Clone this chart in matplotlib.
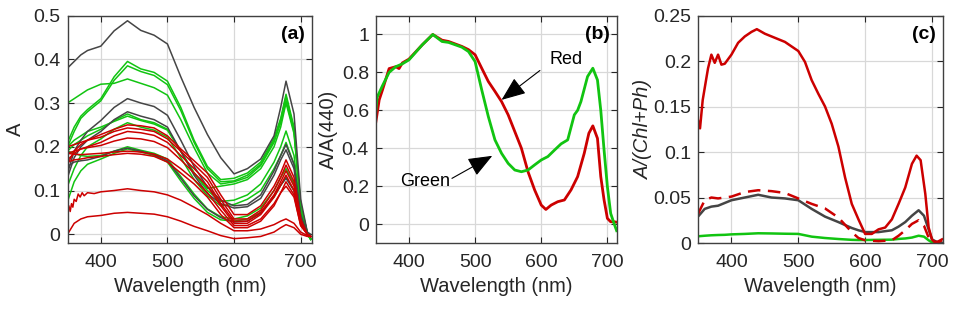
import numpy as np
import matplotlib
matplotlib.use("Agg")
import matplotlib.pyplot as plt

plt.rcParams["font.family"] = ["Liberation Sans", "DejaVu Sans"]
plt.rcParams["text.color"] = "#262626"
plt.rcParams["axes.labelcolor"] = "#262626"
plt.rcParams["xtick.color"] = "#262626"
plt.rcParams["ytick.color"] = "#262626"

RED = "#cc0000"
GREEN = "#11c411"
GRAY = "#454545"

# ---- panel (a): absorbance spectra ----
wl_a = [350, 360, 370, 380, 400, 420, 440, 460, 480, 500, 520, 540, 560, 580,
        600, 620, 640, 660, 670, 678, 690, 700, 710, 715]

gray_a = [
    [0.38, 0.395, 0.41, 0.42, 0.43, 0.465, 0.488, 0.466, 0.455, 0.435, 0.36, 0.29, 0.228, 0.175,
     0.138, 0.15, 0.172, 0.225, 0.29, 0.35, 0.275, 0.08, 0.005, 0.0],
    [0.14, 0.19, 0.215, 0.235, 0.26, 0.29, 0.31, 0.3, 0.292, 0.272, 0.215, 0.155, 0.108, 0.078,
     0.065, 0.068, 0.09, 0.145, 0.18, 0.205, 0.16, 0.045, 0.0, -0.005],
    [0.13, 0.175, 0.2, 0.215, 0.235, 0.262, 0.28, 0.27, 0.262, 0.245, 0.19, 0.135, 0.093, 0.07,
     0.06, 0.063, 0.082, 0.135, 0.17, 0.193, 0.15, 0.04, 0.0, -0.005],
    [0.155, 0.165, 0.168, 0.17, 0.178, 0.19, 0.197, 0.19, 0.182, 0.168, 0.128, 0.088, 0.057, 0.038,
     0.028, 0.03, 0.048, 0.088, 0.112, 0.128, 0.1, 0.028, 0.0, -0.005],
]

green_a = [
    [0.21, 0.245, 0.27, 0.285, 0.31, 0.36, 0.395, 0.378, 0.37, 0.35, 0.29, 0.215, 0.155, 0.125,
     0.128, 0.14, 0.165, 0.22, 0.265, 0.32, 0.245, 0.07, 0.003, -0.01],
    [0.2, 0.235, 0.265, 0.28, 0.305, 0.352, 0.385, 0.372, 0.363, 0.342, 0.283, 0.21, 0.15, 0.12,
     0.122, 0.135, 0.16, 0.215, 0.26, 0.315, 0.24, 0.068, 0.003, -0.01],
    [0.3, 0.31, 0.32, 0.33, 0.343, 0.345, 0.355, 0.345, 0.335, 0.318, 0.262, 0.198, 0.14, 0.115,
     0.12, 0.13, 0.157, 0.21, 0.255, 0.305, 0.235, 0.065, 0.003, -0.012],
    [0.2, 0.215, 0.225, 0.235, 0.245, 0.258, 0.27, 0.26, 0.252, 0.238, 0.19, 0.14, 0.105, 0.11,
     0.115, 0.125, 0.15, 0.2, 0.245, 0.3, 0.23, 0.062, 0.002, -0.012],
    [0.19, 0.205, 0.215, 0.225, 0.24, 0.26, 0.275, 0.262, 0.255, 0.24, 0.19, 0.14, 0.1, 0.075,
     0.078, 0.09, 0.115, 0.165, 0.2, 0.236, 0.18, 0.05, 0.0, -0.01],
    [0.11, 0.15, 0.18, 0.2, 0.218, 0.24, 0.255, 0.245, 0.238, 0.222, 0.175, 0.125, 0.088, 0.065,
     0.068, 0.08, 0.1, 0.15, 0.18, 0.21, 0.16, 0.045, 0.0, -0.01],
    [0.19, 0.185, 0.18, 0.178, 0.18, 0.19, 0.2, 0.192, 0.185, 0.172, 0.132, 0.092, 0.058, 0.04,
     0.035, 0.042, 0.06, 0.1, 0.13, 0.15, 0.115, 0.03, 0.0, -0.01],
    [0.075, 0.12, 0.145, 0.16, 0.172, 0.185, 0.195, 0.188, 0.18, 0.165, 0.122, 0.082, 0.05, 0.033,
     0.03, 0.035, 0.05, 0.085, 0.112, 0.13, 0.1, 0.025, 0.0, -0.012],
]

red_a = [
    [0.16, 0.19, 0.205, 0.215, 0.228, 0.24, 0.25, 0.248, 0.243, 0.225, 0.195, 0.168, 0.14, 0.09,
     0.045, 0.045, 0.065, 0.11, 0.14, 0.17, 0.13, 0.035, 0.0, -0.005],
    [0.2, 0.205, 0.21, 0.215, 0.222, 0.235, 0.243, 0.24, 0.235, 0.218, 0.19, 0.16, 0.13, 0.08,
     0.035, 0.035, 0.055, 0.1, 0.13, 0.158, 0.12, 0.03, 0.0, -0.005],
    [0.17, 0.185, 0.195, 0.2, 0.21, 0.225, 0.235, 0.232, 0.226, 0.21, 0.18, 0.15, 0.12, 0.07,
     0.03, 0.03, 0.05, 0.09, 0.12, 0.145, 0.11, 0.028, 0.0, -0.005],
    [0.185, 0.19, 0.195, 0.198, 0.203, 0.213, 0.22, 0.218, 0.212, 0.198, 0.17, 0.14, 0.11, 0.065,
     0.025, 0.025, 0.045, 0.085, 0.112, 0.135, 0.1, 0.025, 0.0, -0.005],
    [0.185, 0.183, 0.182, 0.183, 0.185, 0.188, 0.19, 0.188, 0.183, 0.172, 0.15, 0.125, 0.095, 0.055,
     0.02, 0.02, 0.035, 0.07, 0.095, 0.11, 0.085, 0.02, 0.0, -0.005],
    [0.165, 0.17, 0.172, 0.175, 0.178, 0.182, 0.185, 0.183, 0.178, 0.165, 0.14, 0.115, 0.085, 0.045,
     0.015, 0.015, 0.03, 0.065, 0.095, 0.12, 0.09, 0.02, 0.0, -0.005],
    [0.0, 0.025, 0.035, 0.04, 0.043, 0.048, 0.05, 0.048, 0.046, 0.04, 0.03, 0.018, 0.008, -0.003,
     -0.01, -0.008, -0.005, 0.005, 0.015, 0.022, 0.015, 0.0, -0.005, -0.005],
]

# noisy low red curve in (a)
wl_a_noisy = [350, 352, 354, 356, 358, 360, 363, 366, 369, 372, 375, 380, 390, 400, 420, 440,
              460, 480, 500, 520, 540, 560, 580, 600, 620, 640, 660, 670, 678, 690, 700, 710, 715]
red_a_noisy = [0.045, 0.065, 0.052, 0.07, 0.062, 0.08, 0.075, 0.092, 0.085, 0.095, 0.088, 0.095,
               0.093, 0.097, 0.1, 0.104, 0.1, 0.097, 0.09, 0.078, 0.062, 0.045, 0.025, 0.008,
               0.008, 0.012, 0.022, 0.03, 0.035, 0.025, 0.005, -0.003, -0.005]

# ---- panel (b): normalized to A(440) ----
wl_b_green = [350, 352, 360, 370, 380, 390, 400, 420, 436, 450, 460, 480, 490, 500, 510, 520,
              530, 540, 550, 560, 570, 580, 590, 600, 610, 620, 630, 640, 650, 655, 660, 670,
              678, 685, 690, 695, 700, 705, 710, 714]
green_b = [0.60, 0.67, 0.73, 0.80, 0.83, 0.845, 0.866, 0.945, 1.0, 0.963, 0.958, 0.933, 0.91,
           0.857, 0.708, 0.567, 0.444, 0.373, 0.32, 0.285, 0.276, 0.285, 0.312, 0.338, 0.356,
           0.39, 0.423, 0.444, 0.576, 0.60, 0.646, 0.778, 0.822, 0.76, 0.60, 0.39, 0.197,
           0.056, 0.004, -0.035]

wl_b_red = [350, 355, 360, 370, 380, 385, 390, 400, 420, 436, 450, 460, 480, 490, 500, 510,
            520, 530, 540, 550, 560, 570, 580, 590, 600, 607, 615, 625, 635, 645, 655, 665,
            672, 678, 685, 690, 695, 700, 705, 710, 714]
red_b = [0.54, 0.655, 0.708, 0.82, 0.83, 0.82, 0.85, 0.87, 0.945, 1.0, 0.97, 0.963, 0.937,
         0.92, 0.893, 0.822, 0.752, 0.70, 0.646, 0.576, 0.488, 0.40, 0.276, 0.18, 0.10, 0.077,
         0.10, 0.118, 0.127, 0.18, 0.25, 0.373, 0.479, 0.518, 0.452, 0.25, 0.127, 0.03, 0.012,
         0.012, 0.01]

# ---- panel (c): normalized to Chl+Ph ----
wl_c_red = [350, 353, 357, 362, 365, 370, 375, 380, 385, 390, 400, 410, 420, 430, 438, 450,
            460, 480, 500, 510, 520, 530, 540, 550, 560, 570, 580, 590, 600, 610, 620, 630,
            640, 650, 660, 670, 677, 683, 690, 695, 700, 705, 710, 715]
red_c = [0.135, 0.126, 0.157, 0.179, 0.192, 0.207, 0.198, 0.207, 0.196, 0.197, 0.207, 0.22,
         0.227, 0.232, 0.235, 0.23, 0.227, 0.221, 0.211, 0.199, 0.179, 0.164, 0.15, 0.131,
         0.106, 0.072, 0.043, 0.026, 0.01, 0.01, 0.015, 0.017, 0.026, 0.043, 0.061, 0.087,
         0.096, 0.091, 0.054, 0.017, 0.004, 0.0, 0.002, 0.004]

wl_c = [350, 360, 370, 380, 390, 400, 420, 440, 460, 480, 500, 520, 540, 560, 580, 590, 600,
        620, 640, 650, 660, 670, 680, 688, 695, 700, 710, 715]
red_c_dash = [0.032, 0.047, 0.05, 0.049, 0.05, 0.051, 0.056, 0.058, 0.057, 0.055, 0.049, 0.043,
              0.038, 0.028, 0.012, 0.0055, 0.003, 0.002, 0.003, 0.008, 0.014, 0.021, 0.025,
              0.019, 0.006, 0.002, 0.001, 0.003]
gray_c = [0.029, 0.0375, 0.04, 0.041, 0.044, 0.047, 0.05, 0.053, 0.05, 0.049, 0.047, 0.0375,
          0.029, 0.023, 0.0165, 0.014, 0.012, 0.012, 0.014, 0.018, 0.023, 0.03, 0.036, 0.03,
          0.015, 0.004, 0.0, 0.0]
green_c = [0.0074, 0.008, 0.0085, 0.0088, 0.009, 0.0095, 0.01, 0.0107, 0.0105, 0.0102, 0.01,
           0.007, 0.0055, 0.0044, 0.0035, 0.0033, 0.0033, 0.0035, 0.0037, 0.0045, 0.005, 0.006,
           0.008, 0.007, 0.003, 0.0007, 0.0, 0.0]


def style_axes(ax, label):
    ax.set_xlim(350, 717)
    ax.set_xticks([400, 500, 600, 700])
    ax.grid(True, color="#d8d8d8", lw=0.9)
    ax.set_axisbelow(True)
    ax.tick_params(direction="in", top=True, right=True, length=4, width=0.8,
                   labelsize=14)
    ax.tick_params(axis="x", pad=8)
    ax.tick_params(axis="y", pad=5)
    for s in ax.spines.values():
        s.set_color("#404040")
        s.set_linewidth(1.0)
    ax.set_xlabel("Wavelength (nm)", fontsize=14.5, labelpad=4)
    ax.text(0.97, 0.955, label, transform=ax.transAxes, ha="right", va="top",
            fontsize=14, fontweight="bold", color="black")


fig = plt.figure(figsize=(9.55, 3.11), dpi=100)
ax_a = fig.add_axes([0.0707, 0.2186, 0.256, 0.7315])
ax_b = fig.add_axes([0.3936, 0.2186, 0.2521, 0.7315])
ax_c = fig.add_axes([0.7309, 0.2186, 0.2569, 0.7315])

# (a)
for y in green_a:
    ax_a.plot(wl_a, y, color=GREEN, lw=1.1)
for y in gray_a:
    ax_a.plot(wl_a, y, color=GRAY, lw=1.1)
for y in red_a:
    ax_a.plot(wl_a, y, color=RED, lw=1.1)
ax_a.plot(wl_a_noisy, red_a_noisy, color=RED, lw=1.1)
style_axes(ax_a, "(a)")
ax_a.set_ylim(-0.02, 0.5)
ax_a.set_yticks([0, 0.1, 0.2, 0.3, 0.4, 0.5])
ax_a.set_yticklabels(["0", "0.1", "0.2", "0.3", "0.4", "0.5"])
ax_a.set_ylabel("A", fontsize=14.5, labelpad=6)

# (b)
ax_b.plot(wl_b_red, red_b, color=RED, lw=2.0)
ax_b.plot(wl_b_green, green_b, color=GREEN, lw=2.0)
style_axes(ax_b, "(b)")
ax_b.set_xlim(350, 714)
ax_b.set_ylim(-0.1, 1.1)
ax_b.set_yticks([0, 0.2, 0.4, 0.6, 0.8, 1.0])
ax_b.set_yticklabels(["0", "0.2", "0.4", "0.6", "0.8", "1"])
ax_b.set_ylabel("A/A(440)", fontsize=14.5, labelpad=3)
arrow = dict(arrowstyle="-|>,head_length=1.5,head_width=0.6", color="black", lw=0.8,
             shrinkA=0, shrinkB=0)
ax_b.annotate("", xy=(540, 0.655), xytext=(598, 0.81), arrowprops=arrow)
ax_b.text(638, 0.87, "Red", fontsize=13, ha="center", va="center", color="black")
ax_b.annotate("", xy=(526, 0.36), xytext=(465, 0.241), arrowprops=arrow)
ax_b.text(424, 0.227, "Green", fontsize=13, ha="center", va="center", color="black")

# (c)
ax_c.plot(wl_c, green_c, color=GREEN, lw=1.8)
ax_c.plot(wl_c, gray_c, color=GRAY, lw=1.8)
ax_c.plot(wl_c, red_c_dash, color=RED, lw=1.8, ls=(0, (5, 3)))
ax_c.plot(wl_c_red, red_c, color=RED, lw=1.8)
style_axes(ax_c, "(c)")
ax_c.set_ylim(0, 0.25)
ax_c.set_yticks([0, 0.05, 0.1, 0.15, 0.2, 0.25])
ax_c.set_yticklabels(["0", "0.05", "0.1", "0.15", "0.2", "0.25"])
ax_c.set_ylabel("A/(Chl+Ph)", fontsize=14.5, style="italic", labelpad=0)

fig.savefig("out.png", dpi=100)
